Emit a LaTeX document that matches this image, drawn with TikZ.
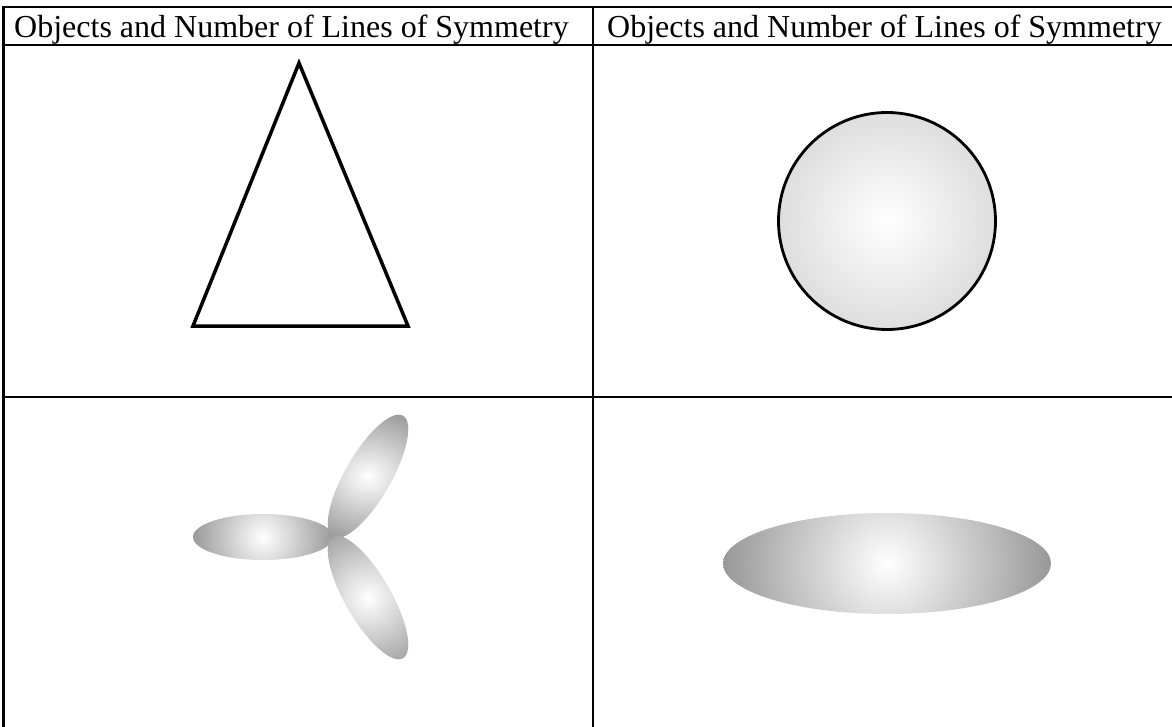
\documentclass[tikz,border=0pt]{standalone}
\usepackage{fontspec}
\setmainfont{Liberation Serif}
\begin{document}
\begin{tikzpicture}[x=1pt,y=1pt,
  grid/.style={line width=2.5pt,black},
  head/.style={anchor=base west,inner sep=0pt,font=\fontsize{32}{38}\selectfont},
  outline/.style={line width=3.5pt,black,line join=miter}]
\useasboundingbox (0,0) rectangle (1172,-727);
% table lines
\draw[grid] (3.5,-727) -- (3.5,-7) -- (1172,-7);
\draw[grid] (3.5,-45) -- (1172,-45);
\draw[grid] (3.5,-397) -- (1172,-397);
\draw[grid] (593,-7) -- (593,-727);
% headers
\node[head] (h1) at (14,-38) {Objects and Number of Lines of Symmetry};
\node[head] (h2) at (607,-38) {Objects and Number of Lines of Symmetry};
% triangle
\draw[outline] (299,-63) -- (408,-326) -- (193,-326) -- cycle;
% circle
\shade[inner color=white, outer color=black!13] (887,-221) circle (108.5);
\draw[line width=2.8pt] (887,-221) circle (108.5);
% ellipse
\begin{scope}
  \clip (887,-563.5) ellipse (164 and 50.5);
  \shade[inner color=white, outer color=black!42] (887,-563.5) circle (170);
\end{scope}
% propeller
\foreach \ang in {180,60,-60}{
  \begin{scope}[shift={(333,-537)}, rotate=\ang]
    \clip (70,0) ellipse (70 and 23);
    \shade[inner color=white, outer color=black!42] (70,0) circle (74);
  \end{scope}
}
\end{tikzpicture}
\end{document}
